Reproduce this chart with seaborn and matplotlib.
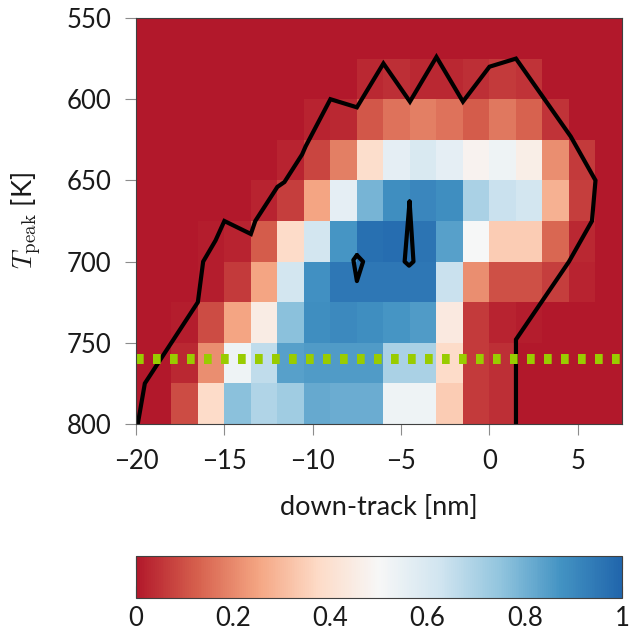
import numpy as np
import seaborn as sns
import matplotlib.pyplot as plt
from matplotlib.colors import LinearSegmentedColormap
from matplotlib.transforms import Affine2D

# cell grid: columns are 1.5 nm wide starting at -21 nm, rows 25 K tall starting at 550 K
x_start, x_step = -21.0, 1.5
t_start, t_step = 550.0, 25.0

# fraction per cell, one list per temperature row (550-575 K at the top)
row_550 = [0] * 19
row_575 = [0, 0, 0, 0, 0, 0, 0, 0, 0, 0.03, 0.04, 0.03, 0.03, 0.04, 0.06, 0.05, 0, 0, 0]
row_600 = [0, 0, 0, 0, 0, 0, 0, 0.02, 0.03, 0.11, 0.16, 0.18, 0.16, 0.12, 0.17, 0.13, 0.05, 0, 0]
row_625 = [0, 0, 0, 0, 0, 0, 0.02, 0.08, 0.18, 0.39, 0.56, 0.60, 0.56, 0.48, 0.53, 0.46, 0.21, 0.06, 0]
row_650 = [0, 0, 0, 0, 0, 0.02, 0.07, 0.25, 0.56, 0.79, 0.89, 0.91, 0.89, 0.70, 0.64, 0.62, 0.28, 0.07, 0]
row_675 = [0, 0, 0, 0.01, 0.02, 0.12, 0.38, 0.62, 0.87, 0.97, 0.98, 0.96, 0.84, 0.50, 0.34, 0.34, 0.14, 0.03, 0]
row_700 = [0, 0, 0, 0.01, 0.06, 0.25, 0.62, 0.88, 0.95, 0.95, 0.95, 0.95, 0.64, 0.21, 0.10, 0.10, 0.07, 0.02, 0]
row_725 = [0, 0, 0.01, 0.09, 0.25, 0.45, 0.76, 0.89, 0.90, 0.89, 0.87, 0.855, 0.44, 0.06, 0.02, 0.01, 0, 0, 0]
row_750 = [0, 0, 0.03, 0.21, 0.53, 0.66, 0.84, 0.855, 0.855, 0.855, 0.70, 0.70, 0.38, 0.06, 0.04, 0, 0, 0, 0]
row_775 = [0, 0, 0.09, 0.38, 0.76, 0.69, 0.72, 0.82, 0.81, 0.81, 0.53, 0.53, 0.34, 0.06, 0.04, 0, 0, 0, 0]
fraction = np.array([row_550, row_575, row_600, row_625, row_650,
                     row_675, row_700, row_725, row_750, row_775])

# contour of the region (down-track nm, T K)
outline_x = [-19.9, -19.5, -16.5, -16.2, -15.5, -15.0, -13.5, -13.25, -12.0, -11.6, -10.6, -10.4,
             -9.0, -7.5, -6.0, -4.5, -3.0, -1.5, 0.0, 1.5, 4.6, 6.0, 5.8, 4.5, 1.5, 1.5]
outline_t = [800, 775, 725, 700, 687, 675, 683, 675, 654, 651, 634, 629,
             600, 605, 578, 601.5, 574, 601.5, 580, 575, 623, 650, 675, 700, 748, 800]
island_a_x = [-7.5, -7.15, -7.5, -7.7, -7.5]
island_a_t = [696, 700, 712, 699, 696]
island_b_x = [-4.52, -4.3, -4.55, -4.8, -4.52]
island_b_t = [663, 700, 702.5, 700, 663]
limit_t = 760

xtick_vals = [-20, -15, -10, -5, 0, 5]
ytick_vals = [550, 600, 650, 700, 750, 800]
cbar_ticks = [0, 0.2, 0.4, 0.6, 0.8, 1]

sns.set_style("ticks")
plt.rcParams['font.family'] = ['Lato', 'DejaVu Sans']
plt.rcParams['mathtext.fontset'] = 'cm'

# colorbrewer RdBu, 9 classes
rdbu = LinearSegmentedColormap.from_list(
    "rdbu9", ["#b2182b", "#d6604d", "#f4a582", "#fddbc7", "#f7f7f7",
              "#d1e5f0", "#92c5de", "#4393c3", "#2166ac"])

W, H = 641, 631
fig = plt.figure(figsize=(W / 100, H / 100), dpi=100)
ax = fig.add_axes([136 / W, 1 - 424 / H, 486 / W, 406 / H])
cax = fig.add_axes([136 / W, 1 - 598 / H, 486 / W, 42 / H])

sns.heatmap(fraction, ax=ax, cmap=rdbu, vmin=0, vmax=1, cbar_ax=cax,
            cbar_kws={'orientation': 'horizontal', 'ticks': cbar_ticks},
            xticklabels=False, yticklabels=False)

# heatmap works in cell index space; map (nm, K) onto it
to_cells = Affine2D().translate(-x_start, -t_start).scale(1 / x_step, 1 / t_step) + ax.transData

ax.plot(outline_x, outline_t, color='black', lw=3.0, transform=to_cells, solid_joinstyle='miter')
ax.plot(island_a_x, island_a_t, color='black', lw=3.0, transform=to_cells)
ax.plot(island_b_x, island_b_t, color='black', lw=3.0, transform=to_cells)
ax.plot([-20, 7.5], [limit_t, limit_t], color='#99cc00', lw=7.2,
        dashes=(0.77, 0.93), dash_capstyle='butt', transform=to_cells)

ax.set_xlim((-20 - x_start) / x_step, (7.5 - x_start) / x_step)
ax.set_ylim((800 - t_start) / t_step, (550 - t_start) / t_step)
ax.set_xticks([(v - x_start) / x_step for v in xtick_vals])
ax.set_xticklabels([str(v).replace('-', '\u2212') for v in xtick_vals])
ax.set_yticks([(v - t_start) / t_step for v in ytick_vals])
ax.set_yticklabels([str(v) for v in ytick_vals], rotation=0)

for s in ax.spines.values():
    s.set_visible(True)
    s.set_color('#404040')
    s.set_linewidth(0.8)
ax.tick_params(direction='out', length=8, width=0.8, color='#8c8c8c', pad=10,
               labelsize=18.5, labelcolor='#1a1a1a')

ax.set_xlabel('down-track [nm]', fontsize=19.5, color='#1a1a1a')
ax.set_ylabel(r'$T_{\mathrm{peak}}$ [K]', fontsize=19.5, color='#1a1a1a')
ax.xaxis.set_label_coords(0.5, -0.175)
ax.yaxis.set_label_coords(-0.19, 0.5)

cb = ax.collections[0].colorbar
cb.outline.set_visible(True)
cb.outline.set_edgecolor('#404040')
cb.outline.set_linewidth(0.8)
cax.tick_params(axis='x', direction='in', length=9, width=0.8, color='#8c8c8c',
                top=True, bottom=True, labelsize=18.5, labelcolor='#1a1a1a', pad=6)
cax.set_xticklabels(['0', '0.2', '0.4', '0.6', '0.8', '1'])

fig.savefig('out.png', dpi=100)
